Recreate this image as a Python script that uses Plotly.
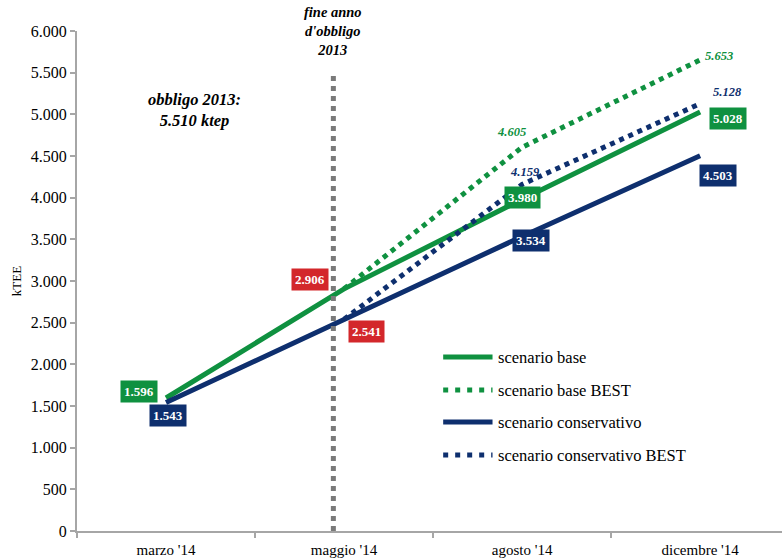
import plotly.graph_objects as go

# Periods and projected cumulative savings (kTEE)
periods = ["marzo '14", "maggio '14", "agosto '14", "dicembre '14"]
base = [1596, 2906, 3980, 5028]
base_best = [None, 2906, 4605, 5653]
conservativo = [1543, 2541, 3534, 4503]
conservativo_best = [None, 2541, 4159, 5128]
obbligo_2013 = 5510
y_ticks = [0, 500, 1000, 1500, 2000, 2500, 3000, 3500, 4000, 4500, 5000, 5500, 6000]

GREEN = "#0f9140"
NAVY = "#0e2f6e"
RED = "#d3272b"
GRAY = "#a6a6a6"
FONT = "Liberation Serif, Times New Roman, serif"
DOT = "5px,5px"

fig = go.Figure()

series = [
    ("scenario base", base, GREEN, "solid"),
    ("scenario base BEST", base_best, GREEN, DOT),
    ("scenario conservativo", conservativo, NAVY, "solid"),
    ("scenario conservativo BEST", conservativo_best, NAVY, DOT),
]
for name, vals, col, dash in series:
    fig.add_trace(go.Scatter(
        x=periods, y=vals, name=name, mode="lines",
        line=dict(color=col, width=5, dash=dash),
        connectgaps=False, hoverinfo="skip", showlegend=False,
    ))

# Legend drawn as line samples with labels beside them (paper coordinates)
leg_x0, leg_x1, leg_text_x = 0.5194, 0.5894, 0.5937
leg_rows = [0.348, 0.282, 0.218, 0.152]
for (name, _, col, dash), ly in zip(series, leg_rows):
    fig.add_shape(
        type="line", xref="paper", yref="paper", x0=leg_x0, x1=leg_x1,
        y0=ly, y1=ly,
        line=dict(color=col, width=5, dash="5px,7px" if dash != "solid" else dash),
    )
    fig.add_annotation(
        x=leg_text_x, y=ly, xref="paper", yref="paper", xanchor="left",
        yanchor="middle", text=name, showarrow=False,
        font=dict(family=FONT, size=16.5, color="black"),
    )


def fmt(v):
    return f"{v:,}".replace(",", ".")


# Boxed labels: (period index, value, colour, xshift, yshift)
boxed = [
    (0, base[0], GREEN, -27, 7),
    (0, conservativo[0], NAVY, 2, -13),
    (1, base[1], RED, -34, 9),
    (1, conservativo[1], RED, 22, -12),
    (2, base[2], GREEN, 0, 2),
    (2, conservativo[2], NAVY, 9, -4),
    (3, base[3], GREEN, 28, -6),
    (3, conservativo[3], NAVY, 18, -20),
]
for idx, v, col, xs, ys in boxed:
    fig.add_annotation(
        x=periods[idx], y=v, text=f"<b>{fmt(v)}</b>", showarrow=False,
        xshift=xs, yshift=ys, bgcolor=col, borderpad=3,
        font=dict(family=FONT, size=13, color="white"),
    )

# Italic labels on the BEST scenarios
plain = [
    (2, base_best[2], GREEN, -11, 15),
    (3, base_best[3], GREEN, 19, 4),
    (2, conservativo_best[2], NAVY, 3, 12),
    (3, conservativo_best[3], NAVY, 27, 12),
]
for idx, v, col, xs, ys in plain:
    fig.add_annotation(
        x=periods[idx], y=v, text=f"<b><i>{fmt(v)}</i></b>", showarrow=False,
        xshift=xs, yshift=ys,
        font=dict(family=FONT, size=12.5, color=col),
    )

# End of the 2013 obligation year
deadline_x = 0.94
fig.add_shape(
    type="line", xref="x", yref="y", x0=deadline_x, x1=deadline_x,
    y0=0, y1=obbligo_2013, line=dict(color="#7a7a7a", width=5, dash=DOT),
)
fig.add_annotation(
    x=deadline_x, y=obbligo_2013, xref="x", yref="y", yanchor="bottom",
    yshift=12, showarrow=False,
    text="<b><i>fine anno<br>d'obbligo<br>2013</i></b>",
    font=dict(family=FONT, size=14.5, color="black"),
)
fig.add_annotation(
    x=0.16, y=5050, xref="x", yref="y", showarrow=False,
    text=f"<b><i>obbligo 2013:<br>{fmt(obbligo_2013)} ktep</i></b>",
    font=dict(family=FONT, size=16.5, color="black"),
)

fig.update_layout(
    width=782, height=560,
    margin=dict(l=77, r=0, t=31, b=29),
    paper_bgcolor="white", plot_bgcolor="white",
    separators=",.",
    font=dict(family=FONT, size=15, color="black"),
    showlegend=False,
    xaxis=dict(
        type="category", range=[-0.5, 3.46],
        showline=True, linecolor=GRAY, linewidth=2,
        ticks="outside", tickson="boundaries", ticklen=5, tickcolor=GRAY, tickwidth=2,
        showgrid=False, zeroline=False, fixedrange=True,
        tickfont=dict(family=FONT, size=15), ticklabelstandoff=4,
    ),
    yaxis=dict(
        range=[0, 6000], tickvals=y_ticks, tickformat=",d",
        showline=True, linecolor=GRAY, linewidth=2,
        ticks="outside", ticklen=5, tickcolor=GRAY, tickwidth=2,
        showgrid=False, zeroline=False,
        title=dict(text="kTEE", font=dict(family=FONT, size=13), standoff=6),
        tickfont=dict(family=FONT, size=16),
    ),
)

fig.write_html("out.html")
